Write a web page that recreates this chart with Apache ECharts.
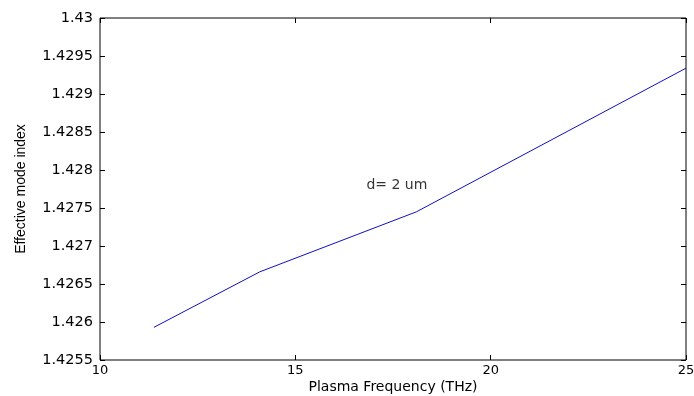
<!DOCTYPE html>
<html lang="en">
<head>
    <meta charset="UTF-8">
    <title>modeIndex</title>
    <style>
        body{margin:0;background:#fff;}
        #main{width:694px;height:396px;}
    </style>
</head>
<body>
<div id="main"></div>
<script src="https://cdn.jsdelivr.net/npm/echarts@6/dist/echarts.min.js"></script>
<script type="text/javascript">
// data
var freq = [11.38, 14.09, 18.1, 25];
var neff = [1.42593, 1.42666, 1.42745, 1.42934];
var noteXY = [16.82, 1.4278];
var noteText = 'd= 2 um';

var font = 'DejaVu Sans, Verdana, sans-serif';
var nameFont = 'Liberation Sans, Arial, sans-serif';
var myChart = echarts.init(document.getElementById('main'));

function sideAxis(pos, isX) {
    return {
        type: 'value',
        position: pos,
        min: isX ? 10 : 1.4255,
        max: isX ? 25 : 1.43,
        interval: isX ? 5 : 0.0005,
        axisLine: {show: false},
        axisTick: {show: true, inside: true, length: 5, lineStyle: {color: '#000'}},
        axisLabel: {show: false},
        splitLine: {show: false}
    };
}

var xMain = sideAxis('bottom', true);
xMain.name = 'Plasma Frequency (THz)';
xMain.nameLocation = 'middle';
xMain.nameGap = 20;
xMain.nameMoveOverlap = false;
xMain.nameTextStyle = {fontFamily: font, fontSize: 14, color: '#000', verticalAlign: 'top'};
xMain.axisLabel = {show: true, fontFamily: font, fontSize: 13, color: '#000', margin: 4};

var yMain = sideAxis('left', false);
yMain.name = 'Effective mode index';
yMain.nameLocation = 'middle';
yMain.nameGap = 72;
yMain.nameMoveOverlap = false;
yMain.nameTextStyle = {fontFamily: nameFont, fontSize: 14, color: '#000'};
yMain.axisLabel = {show: true, fontFamily: font, fontSize: 14.5, color: '#000', margin: 7,
    formatter: function (v) { return String(+v.toFixed(4)); }};

var xTop = sideAxis('top', true);
var yRight = sideAxis('right', false);

myChart.setOption({
    animation: false,
    grid: {left: 100, right: 8, top: 18, bottom: 36, show: true, outerBoundsMode: 'none',
        borderColor: '#000', borderWidth: 1, backgroundColor: '#fff'},
    xAxis: [xMain, xTop],
    yAxis: [yMain, yRight],
    series: [
        {
            type: 'line',
            data: freq.map(function (f, i) { return [f, neff[i]]; }),
            symbol: 'none',
            lineStyle: {color: '#1010c0', width: 1}
        },
        {
            type: 'scatter',
            data: [noteXY],
            symbolSize: 0,
            label: {show: true, position: 'right', distance: 0, formatter: noteText,
                fontFamily: font, fontSize: 14, color: '#000'}
        }
    ]
});
</script>
</body>
</html>
